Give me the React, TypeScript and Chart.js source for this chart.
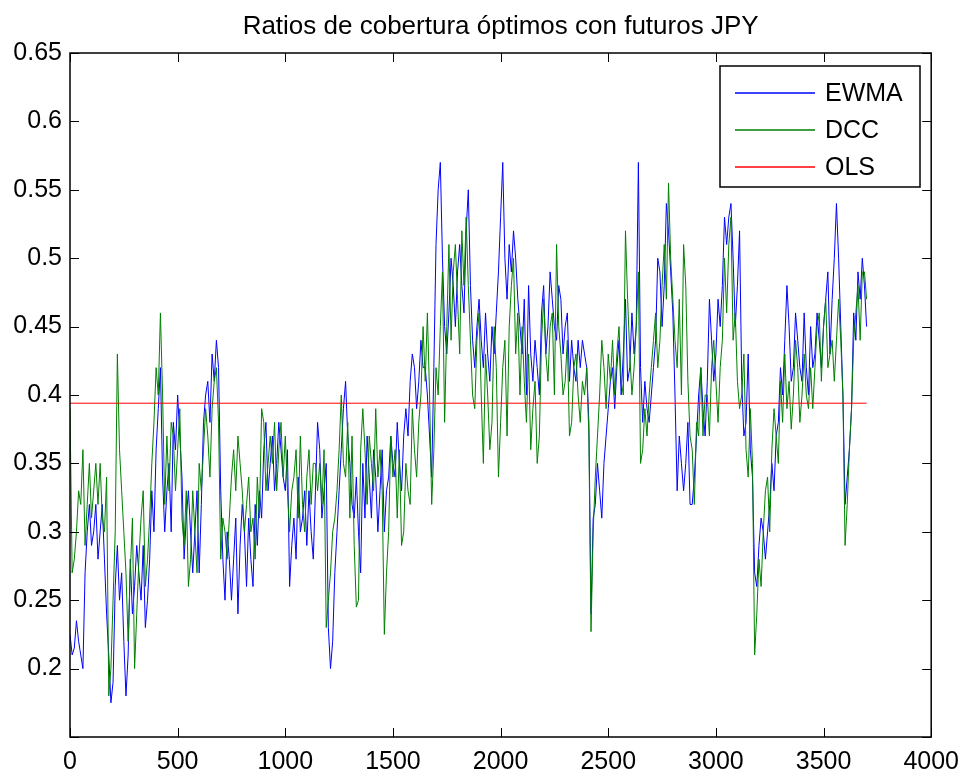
import { useEffect, useRef } from "react";
import { Chart, registerables } from "chart.js";

Chart.register(...registerables);

const TITLE = "Ratios de cobertura óptimos con futuros JPY";
const SERIES_NAMES = ["EWMA", "DCC", "OLS"];
const SERIES_COLORS = ["#0000ff", "#008000", "#ff0000"];

// observation number of each sampled point
const OBS = [
  0, 10, 20, 30, 40, 50, 60, 70, 80, 90, 100, 110, 120, 130, 140, 150, 160, 170, 180, 190,
  200, 210, 220, 230, 240, 250, 260, 270, 280, 290, 300, 310, 320, 330, 340, 350, 360, 370, 380, 390,
  400, 410, 420, 430, 440, 450, 460, 470, 480, 490, 500, 510, 520, 530, 540, 550, 560, 570, 580, 590,
  600, 610, 620, 630, 640, 650, 660, 670, 680, 690, 700, 710, 720, 730, 740, 750, 760, 770, 780, 790,
  800, 810, 820, 830, 840, 850, 860, 870, 880, 890, 900, 910, 920, 930, 940, 950, 960, 970, 980, 990,
  1000, 1010, 1020, 1030, 1040, 1050, 1060, 1070, 1080, 1090, 1100, 1110, 1120, 1130, 1140, 1150, 1160, 1170, 1180, 1190,
  1200, 1210, 1220, 1230, 1240, 1250, 1260, 1270, 1280, 1290, 1300, 1310, 1320, 1330, 1340, 1350, 1360, 1370, 1380, 1390,
  1400, 1410, 1420, 1430, 1440, 1450, 1460, 1470, 1480, 1490, 1500, 1510, 1520, 1530, 1540, 1550, 1560, 1570, 1580, 1590,
  1600, 1610, 1620, 1630, 1640, 1650, 1660, 1670, 1680, 1690, 1700, 1710, 1720, 1730, 1740, 1750, 1760, 1770, 1780, 1790,
  1800, 1810, 1820, 1830, 1840, 1850, 1860, 1870, 1880, 1890, 1900, 1910, 1920, 1930, 1940, 1950, 1960, 1970, 1980, 1990,
  2000, 2010, 2020, 2030, 2040, 2050, 2060, 2070, 2080, 2090, 2100, 2110, 2120, 2130, 2140, 2150, 2160, 2170, 2180, 2190,
  2200, 2210, 2220, 2230, 2240, 2250, 2260, 2270, 2280, 2290, 2300, 2310, 2320, 2330, 2340, 2350, 2360, 2370, 2380, 2390,
  2400, 2410, 2420, 2430, 2440, 2450, 2460, 2470, 2480, 2490, 2500, 2510, 2520, 2530, 2540, 2550, 2560, 2570, 2580, 2590,
  2600, 2610, 2620, 2630, 2640, 2650, 2660, 2670, 2680, 2690, 2700, 2710, 2720, 2730, 2740, 2750, 2760, 2770, 2780, 2790,
  2800, 2810, 2820, 2830, 2840, 2850, 2860, 2870, 2880, 2890, 2900, 2910, 2920, 2930, 2940, 2950, 2960, 2970, 2980, 2990,
  3000, 3010, 3020, 3030, 3040, 3050, 3060, 3070, 3080, 3090, 3100, 3110, 3120, 3130, 3140, 3150, 3160, 3170, 3180, 3190,
  3200, 3210, 3220, 3230, 3240, 3250, 3260, 3270, 3280, 3290, 3300, 3310, 3320, 3330, 3340, 3350, 3360, 3370, 3380, 3390,
  3400, 3410, 3420, 3430, 3440, 3450, 3460, 3470, 3480, 3490, 3500, 3510, 3520, 3530, 3540, 3550, 3560, 3570, 3580, 3590,
  3600, 3610, 3620, 3630, 3640, 3650, 3660, 3670, 3680, 3690, 3700,
];

const EWMA = [
  0.225, 0.21, 0.215, 0.235, 0.22, 0.21, 0.2, 0.27, 0.3, 0.32, 0.29, 0.3, 0.32, 0.28, 0.3, 0.32, 0.28, 0.24, 0.21, 0.175,
  0.19, 0.26, 0.29, 0.25, 0.27, 0.22, 0.18, 0.21, 0.28, 0.24, 0.26, 0.29, 0.27, 0.25, 0.29, 0.23, 0.25, 0.28, 0.33, 0.3,
  0.36, 0.39, 0.42, 0.34, 0.3, 0.33, 0.35, 0.3, 0.38, 0.36, 0.4, 0.37, 0.34, 0.28, 0.31, 0.33, 0.3, 0.27, 0.3, 0.33,
  0.27, 0.32, 0.38, 0.4, 0.41, 0.38, 0.43, 0.41, 0.44, 0.42, 0.33, 0.28, 0.25, 0.3, 0.28, 0.25, 0.28, 0.31, 0.24, 0.29,
  0.32, 0.3, 0.26, 0.31, 0.28, 0.26, 0.32, 0.29, 0.33, 0.31, 0.36, 0.38, 0.33, 0.35, 0.37, 0.33, 0.35, 0.38, 0.36, 0.34,
  0.33, 0.36, 0.26, 0.29, 0.31, 0.28, 0.34, 0.3, 0.31, 0.33, 0.29, 0.33, 0.3, 0.28, 0.33, 0.38, 0.36, 0.31, 0.33, 0.35,
  0.23, 0.2, 0.22, 0.27, 0.3, 0.33, 0.36, 0.39, 0.41, 0.37, 0.35, 0.32, 0.31, 0.34, 0.3, 0.27, 0.35, 0.31, 0.37, 0.34,
  0.31, 0.36, 0.34, 0.3, 0.33, 0.36, 0.3, 0.33, 0.34, 0.37, 0.35, 0.34, 0.38, 0.35, 0.33, 0.37, 0.39, 0.37, 0.41, 0.43,
  0.42, 0.39, 0.41, 0.44, 0.42, 0.42, 0.4, 0.37, 0.34, 0.42, 0.51, 0.55, 0.57, 0.5, 0.45, 0.43, 0.46, 0.5, 0.48, 0.45,
  0.49, 0.51, 0.48, 0.46, 0.52, 0.55, 0.48, 0.44, 0.42, 0.45, 0.47, 0.44, 0.42, 0.46, 0.43, 0.41, 0.45, 0.43, 0.46, 0.49,
  0.53, 0.57, 0.5, 0.47, 0.51, 0.49, 0.52, 0.5, 0.47, 0.45, 0.43, 0.47, 0.4, 0.48, 0.43, 0.41, 0.44, 0.42, 0.4, 0.46,
  0.48, 0.43, 0.45, 0.49, 0.47, 0.45, 0.44, 0.48, 0.47, 0.43, 0.45, 0.46, 0.41, 0.44, 0.42, 0.41, 0.44, 0.42, 0.44, 0.43,
  0.42, 0.38, 0.24, 0.31, 0.32, 0.35, 0.33, 0.31, 0.35, 0.37, 0.39, 0.41, 0.42, 0.39, 0.42, 0.44, 0.4, 0.43, 0.47, 0.41,
  0.42, 0.46, 0.43, 0.45, 0.57, 0.42, 0.38, 0.41, 0.39, 0.38, 0.4, 0.42, 0.44, 0.5, 0.49, 0.45, 0.48, 0.54, 0.52, 0.49,
  0.46, 0.4, 0.33, 0.37, 0.35, 0.33, 0.35, 0.38, 0.32, 0.32, 0.34, 0.37, 0.4, 0.42, 0.39, 0.37, 0.41, 0.47, 0.44, 0.41,
  0.43, 0.47, 0.45, 0.48, 0.53, 0.51, 0.53, 0.54, 0.5, 0.45, 0.48, 0.52, 0.41, 0.37, 0.38, 0.43, 0.36, 0.34, 0.27, 0.26,
  0.29, 0.31, 0.3, 0.28, 0.3, 0.32, 0.35, 0.33, 0.37, 0.38, 0.42, 0.4, 0.44, 0.48, 0.45, 0.41, 0.42, 0.46, 0.44, 0.42,
  0.41, 0.46, 0.42, 0.4, 0.45, 0.42, 0.43, 0.46, 0.44, 0.42, 0.45, 0.47, 0.49, 0.43, 0.47, 0.5, 0.54, 0.5, 0.45, 0.4,
  0.32, 0.34, 0.36, 0.39, 0.46, 0.44, 0.49, 0.47, 0.5, 0.48, 0.45,
];

const DCC = [
  0.39, 0.27, 0.28, 0.3, 0.33, 0.32, 0.36, 0.29, 0.32, 0.35, 0.31, 0.33, 0.35, 0.32, 0.35, 0.31, 0.3, 0.34, 0.18, 0.2,
  0.25, 0.3, 0.43, 0.36, 0.33, 0.3, 0.27, 0.22, 0.27, 0.31, 0.2, 0.24, 0.28, 0.31, 0.33, 0.26, 0.28, 0.31, 0.35, 0.38,
  0.42, 0.4, 0.46, 0.4, 0.32, 0.37, 0.33, 0.38, 0.37, 0.33, 0.36, 0.39, 0.31, 0.29, 0.33, 0.26, 0.28, 0.33, 0.3, 0.27,
  0.35, 0.33, 0.36, 0.39, 0.37, 0.34, 0.39, 0.41, 0.42, 0.38, 0.28, 0.31, 0.3, 0.28, 0.31, 0.34, 0.36, 0.33, 0.37, 0.35,
  0.33, 0.3, 0.32, 0.34, 0.3, 0.31, 0.28, 0.34, 0.31, 0.39, 0.38, 0.33, 0.35, 0.37, 0.35, 0.38, 0.33, 0.36, 0.38, 0.34,
  0.37, 0.33, 0.3, 0.33, 0.34, 0.36, 0.31, 0.37, 0.32, 0.3, 0.34, 0.36, 0.32, 0.35, 0.35, 0.33, 0.35, 0.32, 0.36, 0.23,
  0.25, 0.27, 0.3, 0.31, 0.33, 0.36, 0.4, 0.35, 0.34, 0.38, 0.31, 0.37, 0.29, 0.245, 0.25, 0.36, 0.39, 0.36, 0.32, 0.37,
  0.35, 0.33, 0.39, 0.34, 0.36, 0.33, 0.225, 0.27, 0.3, 0.37, 0.34, 0.36, 0.31, 0.36, 0.29, 0.3, 0.35, 0.33, 0.32, 0.39,
  0.36, 0.34, 0.38, 0.4, 0.45, 0.41, 0.46, 0.4, 0.32, 0.36, 0.42, 0.4, 0.45, 0.49, 0.38, 0.45, 0.51, 0.44, 0.49, 0.51,
  0.47, 0.43, 0.52, 0.48, 0.53, 0.48, 0.44, 0.4, 0.39, 0.44, 0.46, 0.4, 0.35, 0.43, 0.4, 0.36, 0.38, 0.45, 0.42, 0.34,
  0.38, 0.42, 0.44, 0.37, 0.45, 0.48, 0.5, 0.43, 0.46, 0.4, 0.45, 0.41, 0.38, 0.43, 0.36, 0.39, 0.41, 0.35, 0.37, 0.44,
  0.47, 0.43, 0.41, 0.45, 0.46, 0.4, 0.51, 0.45, 0.43, 0.4, 0.41, 0.44, 0.37, 0.38, 0.42, 0.43, 0.4, 0.38, 0.41, 0.4,
  0.42, 0.37, 0.227, 0.3, 0.34, 0.37, 0.4, 0.44, 0.42, 0.39, 0.43, 0.41, 0.44, 0.4, 0.43, 0.45, 0.41, 0.4, 0.52, 0.47,
  0.43, 0.4, 0.42, 0.45, 0.49, 0.35, 0.36, 0.39, 0.37, 0.4, 0.42, 0.44, 0.46, 0.42, 0.44, 0.48, 0.51, 0.47, 0.555, 0.5,
  0.47, 0.44, 0.42, 0.47, 0.4, 0.51, 0.48, 0.41, 0.37, 0.36, 0.32, 0.38, 0.37, 0.42, 0.37, 0.4, 0.4, 0.37, 0.42, 0.44,
  0.41, 0.38, 0.42, 0.44, 0.5, 0.46, 0.51, 0.53, 0.44, 0.46, 0.41, 0.39, 0.4, 0.43, 0.36, 0.34, 0.39, 0.35, 0.21, 0.24,
  0.28, 0.26, 0.3, 0.33, 0.34, 0.3, 0.36, 0.39, 0.37, 0.35, 0.41, 0.38, 0.43, 0.39, 0.41, 0.375, 0.4, 0.44, 0.42, 0.38,
  0.4, 0.43, 0.4, 0.39, 0.42, 0.39, 0.42, 0.45, 0.46, 0.41, 0.45, 0.47, 0.42, 0.43, 0.44, 0.41, 0.44, 0.47, 0.44, 0.4,
  0.29, 0.32, 0.36, 0.39, 0.44, 0.46, 0.48, 0.44, 0.49, 0.49, 0.47,
];

const OLS_VALUE = 0.394;
const OLS_RANGE = [0, 3700];

const X_MIN = 0;
const X_MAX = 4000;
const X_STEP = 500;
const Y_MIN = 0.15;
const Y_MAX = 0.65;
const Y_STEP = 0.05;

const FONT = "'Liberation Sans', Arial, sans-serif";

const matlabPlugin = {
  id: "matlabAxes",
  afterDatasetsDraw(chart: any) {
    const { ctx, chartArea: a, scales } = chart;
    ctx.save();
    // inward ticks on all four sides
    const tl = 9;
    ctx.strokeStyle = "#000";
    ctx.lineWidth = 1;
    ctx.beginPath();
    for (const t of scales.x.ticks) {
      const px = Math.round(scales.x.getPixelForValue(t.value)) + 0.5;
      ctx.moveTo(px, a.bottom);
      ctx.lineTo(px, a.bottom - tl);
      ctx.moveTo(px, a.top);
      ctx.lineTo(px, a.top + tl);
    }
    for (const t of scales.y.ticks) {
      const py = Math.round(scales.y.getPixelForValue(t.value)) + 0.5;
      ctx.moveTo(a.left, py);
      ctx.lineTo(a.left + tl, py);
      ctx.moveTo(a.right, py);
      ctx.lineTo(a.right - tl, py);
    }
    ctx.stroke();
    // axes box
    ctx.lineWidth = 1.5;
    ctx.strokeRect(a.left, a.top, a.right - a.left, a.bottom - a.top);

    // title
    ctx.fillStyle = "#000";
    ctx.font = `26px ${FONT}`;
    ctx.textAlign = "center";
    ctx.textBaseline = "middle";
    ctx.fillText(TITLE, (a.left + a.right) / 2, 27);

    // legend
    const lx = Math.round(a.right - 211);
    const ly = Math.round(a.top + 13);
    const lw = 200;
    const lh = 121;
    ctx.fillStyle = "#ffffff";
    ctx.fillRect(lx, ly, lw, lh);
    ctx.lineWidth = 1.5;
    ctx.strokeStyle = "#000000";
    ctx.strokeRect(lx, ly, lw, lh);
    ctx.font = `25px ${FONT}`;
    ctx.textAlign = "left";
    ctx.textBaseline = "middle";
    for (let i = 0; i < SERIES_NAMES.length; i++) {
      const yy = ly + 27 + i * 37;
      ctx.strokeStyle = SERIES_COLORS[i];
      ctx.lineWidth = 1.4;
      ctx.beginPath();
      ctx.moveTo(lx + 15, yy);
      ctx.lineTo(lx + 95, yy);
      ctx.stroke();
      ctx.fillStyle = "#000000";
      ctx.fillText(SERIES_NAMES[i], lx + 105, yy + 1);
    }
    ctx.restore();
  },
};

export default function App() {
  const ref = useRef<HTMLCanvasElement | null>(null);

  useEffect(() => {
    if (!ref.current) return;
    const ewmaData = OBS.map((x, i) => ({ x, y: EWMA[i] }));
    const dccData = OBS.map((x, i) => ({ x, y: DCC[i] }));
    const olsData = OLS_RANGE.map((x) => ({ x, y: OLS_VALUE }));
    const chart = new Chart(ref.current, {
      type: "line",
      data: {
        datasets: [
          {
            label: SERIES_NAMES[0],
            data: ewmaData,
            borderColor: SERIES_COLORS[0],
            borderWidth: 1,
            pointRadius: 0,
            tension: 0,
            order: 2,
          },
          {
            label: SERIES_NAMES[1],
            data: dccData,
            borderColor: SERIES_COLORS[1],
            borderWidth: 1,
            pointRadius: 0,
            tension: 0,
            order: 1,
          },
          {
            label: SERIES_NAMES[2],
            data: olsData,
            borderColor: SERIES_COLORS[2],
            borderWidth: 1,
            pointRadius: 0,
            tension: 0,
            order: 0,
          },
        ],
      },
      options: {
        animation: false,
        responsive: false,
        devicePixelRatio: 1,
        layout: { padding: { top: 53, right: 31, left: 0, bottom: 0 } },
        plugins: {
          legend: { display: false },
          title: { display: false },
          tooltip: { enabled: false },
        },
        scales: {
          x: {
            type: "linear",
            min: X_MIN,
            max: X_MAX,
            grid: { display: false, drawTicks: false },
            border: { display: false },
            ticks: {
              stepSize: X_STEP,
              padding: 10,
              color: "#000",
              font: { family: FONT, size: 25 },
              maxRotation: 0,
              autoSkip: false,
              callback: (v: any) => String(v),
            },
            afterFit: (s: any) => {
              s.height = 35;
            },
          },
          y: {
            type: "linear",
            min: Y_MIN,
            max: Y_MAX,
            grid: { display: false, drawTicks: false },
            border: { display: false },
            ticks: {
              stepSize: Y_STEP,
              padding: 8,
              color: "#000",
              font: { family: FONT, size: 25 },
              autoSkip: false,
              callback: (v: any) =>
                Number(v) < Y_MIN + Y_STEP / 2 ? "" : String(parseFloat(Number(v).toFixed(2))),
            },
            afterFit: (s: any) => {
              s.width = 70;
            },
          },
        },
      },
      plugins: [matlabPlugin],
    });
    return () => chart.destroy();
  }, []);

  return (
    <div style={{ position: "absolute", left: 0, top: 0, width: 969, height: 772, background: "#fff" }}>
      <canvas ref={ref} width={969} height={772} style={{ width: 969, height: 772, display: "block" }} />
    </div>
  );
}
